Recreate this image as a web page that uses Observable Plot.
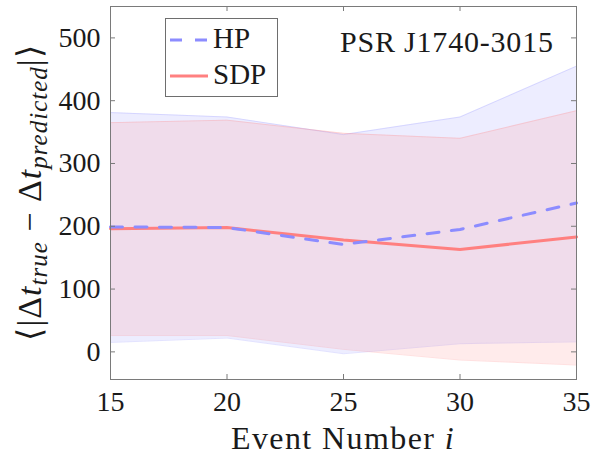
<!DOCTYPE html>
<html>
<head>
<meta charset="utf-8">
<script src="https://cdn.jsdelivr.net/npm/d3@7"></script>
<script src="https://cdn.jsdelivr.net/npm/@observablehq/plot@0.6"></script>
<style>
  html, body { margin: 0; padding: 0; background: white; }
  #chart svg { display: block; }
</style>
</head>
<body>
<div id="chart"></div>
<script>
// Mean absolute timing error per event number, with spread bands
const events   = [15, 20, 25, 30, 35];
const hpMean   = [199, 198, 171, 195, 237];
const hpLow    = [15, 22, -3, 13, 16];
const hpHigh   = [381, 374, 346, 374, 455];
const sdpMean  = [196, 198, 178, 163, 183];
const sdpLow   = [26, 26, 4, -13, -21];
const sdpHigh  = [365, 369, 348, 340, 384];

const xTicks = [15, 20, 25, 30, 35];
const yTicks = [0, 100, 200, 300, 400, 500];
const seriesNames = ["HP", "SDP"];
const pulsarName = "PSR J1740-3015";

const hpColor = "#8c8cff";
const sdpColor = "#ff8080";
const axisColor = "#7a7a7a";
const textColor = "#1a1a1a";
const serif = "'Liberation Serif', 'Times New Roman', serif";

const W = 593, H = 461;
const mL = 110, mR = 17, mT = 6, mB = 82;
const innerW = W - mL - mR, innerH = H - mT - mB;
const tickLen = 5;

const hp = events.map((e, i) => ({e, mean: hpMean[i], lo: hpLow[i], hi: hpHigh[i]}));
const sdp = events.map((e, i) => ({e, mean: sdpMean[i], lo: sdpLow[i], hi: sdpHigh[i]}));

const chart = Plot.plot({
  width: W, height: H,
  marginLeft: mL, marginRight: mR, marginTop: mT, marginBottom: mB,
  style: {fontFamily: serif, fontSize: "28px", color: textColor, background: "white"},
  x: {domain: [15, 35]},
  y: {domain: [-44, 550]},
  marks: [
    // spread bands
    Plot.areaY(hp, {x: "e", y1: "lo", y2: "hi", fill: hpColor, fillOpacity: 0.16}),
    Plot.line(hp, {x: "e", y: "hi", stroke: hpColor, strokeOpacity: 0.3, strokeWidth: 0.8}),
    Plot.line(hp, {x: "e", y: "lo", stroke: hpColor, strokeOpacity: 0.3, strokeWidth: 0.8}),
    Plot.areaY(sdp, {x: "e", y1: "lo", y2: "hi", fill: sdpColor, fillOpacity: 0.16}),
    Plot.line(sdp, {x: "e", y: "hi", stroke: sdpColor, strokeOpacity: 0.3, strokeWidth: 0.8}),
    Plot.line(sdp, {x: "e", y: "lo", stroke: sdpColor, strokeOpacity: 0.3, strokeWidth: 0.8}),
    // mean curves
    Plot.line(sdp, {x: "e", y: "mean", stroke: sdpColor, strokeWidth: 3}),
    Plot.line(hp, {x: "e", y: "mean", stroke: hpColor, strokeWidth: 3, strokeDasharray: "12,12.5"}),
    // box frame and inward ticks on all four sides
    Plot.frame({stroke: axisColor, strokeWidth: 1}),
    Plot.tickX(xTicks, {x: d => d, stroke: axisColor, insetTop: innerH - tickLen}),
    Plot.tickX(xTicks, {x: d => d, stroke: axisColor, insetBottom: innerH - tickLen}),
    Plot.tickY(yTicks, {y: d => d, stroke: axisColor, insetRight: innerW - tickLen}),
    Plot.tickY(yTicks, {y: d => d, stroke: axisColor, insetLeft: innerW - tickLen}),
    // tick labels
    Plot.axisX({ticks: xTicks, tickSize: 0, tickPadding: 12, label: null, fontSize: 28}),
    Plot.axisY({ticks: yTicks, tickSize: 0, tickPadding: 10, label: null, fontSize: 28})
  ]
});

document.getElementById("chart").appendChild(chart);

const svg = d3.select(chart);

// x-axis title
const xt = svg.append("text")
  .attr("x", mL + innerW / 2).attr("y", 449)
  .attr("text-anchor", "middle")
  .attr("font-family", serif).attr("font-size", 32)
  .attr("letter-spacing", 1.4)
  .attr("fill", textColor);
xt.append("tspan").text("Event Number ");
xt.append("tspan").attr("font-style", "italic").text("i");

// y-axis title: <|Δt_true − Δt_predicted|>
const yt = svg.append("text")
  .attr("transform", `translate(41,${mT + innerH / 2}) rotate(-90)`)
  .attr("text-anchor", "middle")
  .attr("font-family", serif).attr("font-size", 34)
  .attr("letter-spacing", 1)
  .attr("fill", textColor);
yt.append("tspan").text("⟨|Δ");
yt.append("tspan").attr("font-style", "italic").text("t");
yt.append("tspan").attr("font-style", "italic").attr("font-size", 25).attr("dy", 6).text("true");
yt.append("tspan").attr("dy", -6).text(" − Δ");
yt.append("tspan").attr("font-style", "italic").text("t");
yt.append("tspan").attr("font-style", "italic").attr("font-size", 25).attr("dy", 6).text("predicted");
yt.append("tspan").attr("dy", -6).text("|⟩");

// in-plot label
svg.append("text")
  .attr("x", 340).attr("y", 52)
  .attr("text-anchor", "start")
  .attr("font-family", serif).attr("font-size", 30)
  .attr("letter-spacing", 0.8)
  .attr("fill", textColor)
  .text(pulsarName);

// legend
const lg = svg.append("g");
lg.append("rect")
  .attr("x", 165.5).attr("y", 18.5).attr("width", 112).attr("height", 78)
  .attr("fill", "white").attr("stroke", "#6e6e6e").attr("stroke-width", 1);
const legendItems = [
  {name: seriesNames[0], color: hpColor, dash: "12,13", y: 40},
  {name: seriesNames[1], color: sdpColor, dash: null, y: 76}
];
legendItems.forEach(d => {
  lg.append("line")
    .attr("x1", 170).attr("x2", 208).attr("y1", d.y).attr("y2", d.y)
    .attr("stroke", d.color).attr("stroke-width", 3)
    .attr("stroke-dasharray", d.dash);
  lg.append("text")
    .attr("x", 213).attr("y", d.y + 8)
    .attr("text-anchor", "start")
    .attr("font-family", serif).attr("font-size", 29)
    .attr("fill", textColor)
    .text(d.name);
});
</script>
</body>
</html>
